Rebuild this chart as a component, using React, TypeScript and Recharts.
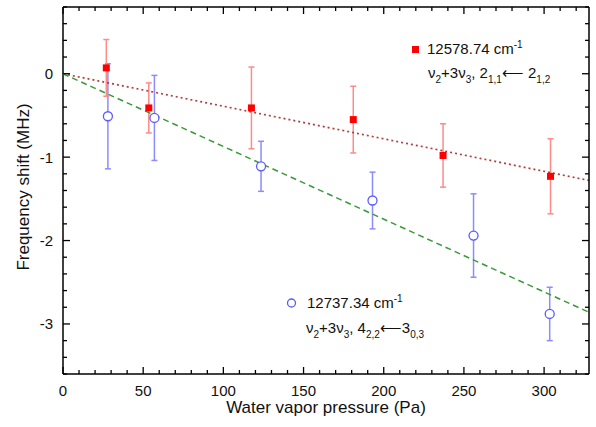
import { ComposedChart, Scatter, ErrorBar, XAxis, YAxis } from "recharts"

// red squares: 12578.74 cm-1 line
const pressureRed = [27, 53.5, 117.5, 181, 237, 304]
const shiftRed = [0.07, -0.41, -0.41, -0.55, -0.98, -1.23]
const errRed = [0.34, 0.3, 0.49, 0.4, 0.38, 0.45]

// open blue circles: 12737.34 cm-1 line
const pressureBlue = [28, 57, 123.5, 193, 256, 303.5]
const shiftBlue = [-0.51, -0.53, -1.11, -1.52, -1.94, -2.88]
const errBlue = [0.63, 0.51, 0.3, 0.34, 0.5, 0.32]

// linear fits through the origin (MHz / Pa)
const slopeRed = -0.0039
const slopeBlue = -0.00872

const xMax = 328
const yDomain: [number, number] = [-3.6, 0.8]
const xMajor = [0, 50, 100, 150, 200, 250, 300]
const yMajor = [-3, -2, -1, 0]

const xTicks: number[] = []
for (let v = 0; v <= 320; v += 10) xTicks.push(v)
const yTicks: number[] = []
for (let i = -18; i <= 4; i++) yTicks.push(i / 5)

const redData = pressureRed.map((x, i) => ({ x, y: shiftRed[i], err: errRed[i] }))
const blueData = pressureBlue.map((x, i) => ({ x, y: shiftBlue[i], err: errBlue[i] }))
const fitRed = [0, xMax].map((x) => ({ x, y: slopeRed * x }))
const fitBlue = [0, xMax].map((x) => ({ x, y: slopeBlue * x }))

const FONT = '"Liberation Sans", Arial, sans-serif'

// plot box (chart size minus margins / axis sizes below)
const W = 596
const H = 427
const PLOT = { left: 63, top: 7, right: W - 7, bottom: H - 53 }

const isMajorX = (v: number) => xMajor.includes(v)
const isMajorY = (v: number) => yMajor.some((m) => Math.abs(m - v) < 1e-6)

function XTick({ x, y, payload }: any) {
  const major = isMajorX(payload.value)
  return (
    <g>
      <line x1={x} x2={x} y1={y} y2={y - (major ? 7 : 4)} stroke="#000" strokeWidth={1.3} />
      {major && (
        <text x={x} y={y + 21.5} textAnchor="middle" fontSize={15} fontFamily={FONT} fill="#111">
          {payload.value}
        </text>
      )}
    </g>
  )
}

function YTick({ x, y, payload }: any) {
  const major = isMajorY(payload.value)
  return (
    <g>
      <line x1={x} x2={x + (major ? 7 : 4)} y1={y} y2={y} stroke="#000" strokeWidth={1.3} />
      {major && (
        <text x={x - 10} y={y + 5.5} textAnchor="end" fontSize={15} fontFamily={FONT} fill="#111">
          {Math.round(payload.value)}
        </text>
      )}
    </g>
  )
}

// mirrored top/right frame with inward ticks
function Frame() {
  const sx = (v: number) => PLOT.left + (v / xMax) * (PLOT.right - PLOT.left)
  const sy = (v: number) =>
    PLOT.top + ((yDomain[1] - v) / (yDomain[1] - yDomain[0])) * (PLOT.bottom - PLOT.top)
  return (
    <g stroke="#000">
      <line x1={PLOT.left} x2={PLOT.right} y1={PLOT.top} y2={PLOT.top} strokeWidth={1.5} />
      <line x1={PLOT.right} x2={PLOT.right} y1={PLOT.top} y2={PLOT.bottom} strokeWidth={1.5} />
      {xTicks.map((v) => (
        <line key={"t" + v} x1={sx(v)} x2={sx(v)} y1={PLOT.top} y2={PLOT.top + (isMajorX(v) ? 7 : 4)} strokeWidth={1.3} />
      ))}
      {yTicks.map((v) => (
        <line key={"r" + v} x1={PLOT.right} x2={PLOT.right - (isMajorY(v) ? 7 : 4)} y1={sy(v)} y2={sy(v)} strokeWidth={1.3} />
      ))}
    </g>
  )
}

const RedSquare = ({ cx, cy }: any) => <rect x={cx - 3.5} y={cy - 3.5} width={7} height={7} fill="#ff0000" />
const BlueCircle = ({ cx, cy }: any) => (
  <circle cx={cx} cy={cy} r={4.5} fill="#fff" stroke="#5a5aff" strokeWidth={1.3} />
)
const Nothing = () => <g />

type Seg = [string, "n" | "sub" | "sup"]

function Rich({ x, y, segs }: { x: number; y: number; segs: Seg[] }) {
  const shift = { n: 0, sub: 5, sup: -6 }
  let prev = 0
  return (
    <text x={x} y={y} fontFamily={FONT} fill="#111" fontSize={15}>
      {segs.map(([t, k], i) => {
        const dy = shift[k] - prev
        prev = shift[k]
        return (
          <tspan key={i} dy={dy} fontSize={k === "n" ? 15 : 10}>
            {t}
          </tspan>
        )
      })}
    </text>
  )
}

export default function App() {
  return (
    <div style={{ position: "absolute", left: 0, top: 0, width: W, height: H, background: "#fff" }}>
      <ComposedChart width={W} height={H} margin={{ top: PLOT.top, right: W - PLOT.right, bottom: 0, left: 0 }}>
        <XAxis
          type="number"
          dataKey="x"
          domain={[0, xMax]}
          ticks={xTicks}
          interval={0}
          height={H - PLOT.bottom}
          tickSize={0}
          tickMargin={0}
          axisLine={{ stroke: "#000", strokeWidth: 1.5 }}
          tickLine={false}
          tick={XTick}
        />
        <YAxis
          type="number"
          dataKey="y"
          domain={yDomain}
          ticks={yTicks}
          interval={0}
          width={PLOT.left}
          tickSize={0}
          tickMargin={0}
          axisLine={{ stroke: "#000", strokeWidth: 1.5 }}
          tickLine={false}
          tick={YTick}
        />
        <Scatter
          data={fitRed}
          line={{ stroke: "#b04040", strokeWidth: 1.7, strokeDasharray: "2 3" }}
          shape={Nothing}
          isAnimationActive={false}
        />
        <Scatter
          data={fitBlue}
          line={{ stroke: "#3a9a3a", strokeWidth: 1.5, strokeDasharray: "6 4" }}
          shape={Nothing}
          isAnimationActive={false}
        />
        <Scatter data={blueData} shape={BlueCircle} isAnimationActive={false}>
          <ErrorBar dataKey="err" direction="y" width={3} stroke="#8c8cff" strokeWidth={1.5} isAnimationActive={false} />
        </Scatter>
        <Scatter data={redData} shape={RedSquare} isAnimationActive={false}>
          <ErrorBar dataKey="err" direction="y" width={3} stroke="#ff8a8a" strokeWidth={1.5} isAnimationActive={false} />
        </Scatter>
      </ComposedChart>

      <svg width={W} height={H} style={{ position: "absolute", left: 0, top: 0, pointerEvents: "none" }}>
        <Frame />
        <text
          transform="translate(29,187) rotate(-90)"
          textAnchor="middle"
          fontSize={17}
          fontFamily={FONT}
          fill="#111"
        >
          Frequency shift (MHz)
        </text>
        <text x={326} y={413} textAnchor="middle" fontSize={17} fontFamily={FONT} fill="#111">
          Water vapor pressure (Pa)
        </text>

        <rect x={412} y={46} width={7} height={7} fill="#ff0000" />
        <Rich x={427} y={54} segs={[["12578.74 cm", "n"], ["-1", "sup"]]} />
        <Rich
          x={428}
          y={78}
          segs={[
            ["ν", "n"], ["2", "sub"], ["+3ν", "n"], ["3", "sub"], [", 2", "n"], ["1,1", "sub"],
            ["⟵ ", "n"], ["2", "n"], ["1,2", "sub"],
          ]}
        />

        <circle cx={291.5} cy={303} r={4} fill="#fff" stroke="#5a5aff" strokeWidth={1.3} />
        <Rich x={307} y={308} segs={[["12737.34 cm", "n"], ["-1", "sup"]]} />
        <Rich
          x={306}
          y={333}
          segs={[
            ["ν", "n"], ["2", "sub"], ["+3ν", "n"], ["3", "sub"], [", 4", "n"], ["2,2", "sub"],
            ["⟵", "n"], ["3", "n"], ["0,3", "sub"],
          ]}
        />
      </svg>
    </div>
  )
}
